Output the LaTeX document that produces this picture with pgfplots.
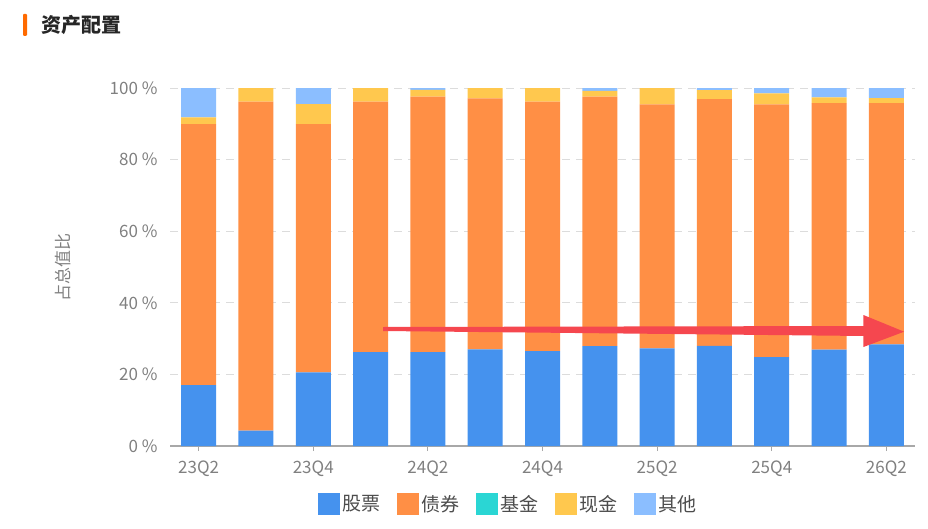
\documentclass[border=0pt]{standalone}
\usepackage{fontspec}
\setmainfont{Noto Sans CJK SC}
\usepackage{pgfplots}
\usepackage{pgfplotstable}
\pgfplotsset{compat=1.18}
\definecolor{cStock}{HTML}{4592EE}
\definecolor{cBond}{HTML}{FF8F45}
\definecolor{cFund}{HTML}{2AD6D4}
\definecolor{cCash}{HTML}{FFC84E}
\definecolor{cOther}{HTML}{8BBEFF}
\definecolor{tickgray}{HTML}{808080}
\definecolor{axgray}{HTML}{A8A8A8}
\definecolor{gridgray}{HTML}{DCDCDC}
\definecolor{arrowred}{HTML}{F5474F}
\definecolor{titleorange}{HTML}{FF6A00}
\pgfplotstableread{
x stock bond fund cash other
0  17.0 72.9 0 1.9 8.2
1  4.3  91.9 0 3.8 0.0
2  20.6 69.3 0 5.6 4.5
3  26.2 70.0 0 3.8 0.0
4  26.2 71.4 0 1.9 0.5
5  27.0 70.1 0 2.9 0.0
6  26.5 69.7 0 3.8 0.0
7  27.9 69.7 0 1.6 0.8
8  27.3 68.1 0 4.6 0.0
9  28.0 68.9 0 2.5 0.6
10 24.8 70.6 0 3.1 1.5
11 26.9 68.9 0 1.6 2.6
12 28.4 67.4 0 1.4 2.8
}\data
\begin{document}
\begin{tikzpicture}
\path[use as bounding box] (0,0) rectangle (928pt,528pt);
\fill[titleorange, rounded corners=1pt] (23pt,492pt) rectangle (27pt,514pt);
\node[anchor=west, inner sep=0pt, font=\fontsize{20}{24}\selectfont\bfseries, text=black!85] at (41pt,503pt) {资产配置};
\begin{axis}[
  at={(170pt,82pt)}, anchor=south west,
  width=745pt, height=358pt, scale only axis,
  xmin=-0.5, xmax=12.5, ymin=0, ymax=100,
  ybar stacked, bar width=35pt,
  axis x line=bottom, axis y line=left,
  axis line style={-},
  x axis line style={draw=axgray, line width=1.2pt},
  y axis line style={draw=none},
  xtick={0,2,...,12},
  xticklabels={23Q2,23Q4,24Q2,24Q4,25Q2,25Q4,26Q2},
  ytick={0,20,40,60,80,100},
  yticklabels={0 \%,20 \%,40 \%,60 \%,80 \%,100 \%},
  tick align=outside,
  major tick length=5pt,
  x tick style={draw=axgray, line width=1pt},
  y tick style={draw=none},
  ticklabel style={font=\fontsize{17}{20}\selectfont, text=tickgray},
  yticklabel style={xshift=-4pt},
  xticklabel style={yshift=-6pt},
  ymajorgrids,
  major grid style={draw=gridgray, line width=1pt, dash pattern=on 8pt off 6pt},
  ylabel={占总值比},
  every axis y label/.style={at={(axis description cs:-0.144,0.5)}, rotate=90, anchor=center,
    font=\fontsize{17}{20}\selectfont, text=tickgray},
  legend style={at={(axis description cs:0.195,-0.162)}, anchor=west, draw=none, fill=none,
    legend columns=-1, font=\fontsize{19}{22}\selectfont, text=black!70,
    /tikz/every even column/.append style={column sep=15pt}},
  legend image code/.code={\fill[#1] (0pt,-11pt) rectangle (22pt,11pt);},
]
\addplot[fill=cStock, draw=none] table[x=x,y=stock]{\data};
\addplot[fill=cBond, draw=none] table[x=x,y=bond]{\data};
\addplot[fill=cFund, draw=none] table[x=x,y=fund]{\data};
\addplot[fill=cCash, draw=none] table[x=x,y=cash]{\data};
\addplot[fill=cOther, draw=none] table[x=x,y=other]{\data};
\legend{股票,债券,基金,现金,其他}
\coordinate (a1) at (axis cs:3.22,33.24);
\coordinate (a2) at (axis cs:11.60,33.52);
\coordinate (a3) at (axis cs:11.60,36.59);
\coordinate (a4) at (axis cs:12.31,31.93);
\coordinate (a5) at (axis cs:11.60,27.65);
\coordinate (a6) at (axis cs:11.60,30.73);
\coordinate (a7) at (axis cs:3.22,32.12);
\end{axis}
\fill[arrowred] (a1) -- (a2) -- (a3) -- (a4) -- (a5) -- (a6) -- (a7) -- cycle;
\end{tikzpicture}
\end{document}
